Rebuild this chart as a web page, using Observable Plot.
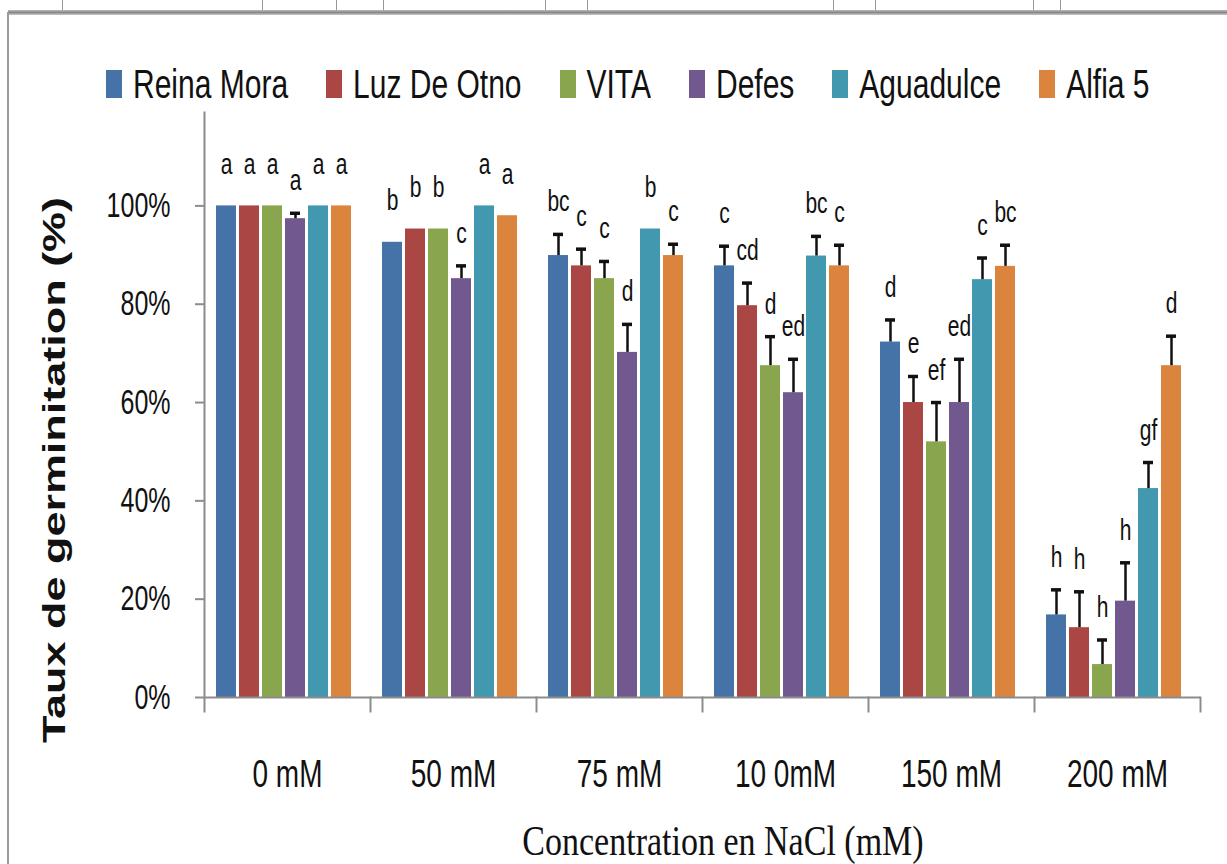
<!DOCTYPE html>
<html>
<head>
<meta charset="utf-8">
<script src="https://cdn.jsdelivr.net/npm/d3@7"></script>
<script src="https://cdn.jsdelivr.net/npm/@observablehq/plot@0.6"></script>
<style>
  body { margin: 0; background: #fff; }
  #wrap { position: relative; width: 1227px; height: 864px; overflow: hidden; font-family: "Liberation Sans", Arial, sans-serif; color: #111; }
  #topline { position: absolute; left: 8px; right: 0; top: 10px; height: 5px; background: linear-gradient(#bbb, #888, #ccc); }
  #leftline { position: absolute; left: 7px; top: 12px; bottom: 0; width: 2px; background: #9a9a9a; }
  .rt { position: absolute; top: 0; width: 1px; height: 10px; background: #999; }
  #legend { position: absolute; left: 106px; top: 70px; display: flex; align-items: center; gap: 38px; }
  .item { display: flex; align-items: center; }
  .sw { width: 16px; height: 28px; margin-right: 11px; }
  .lab { font-size: 30px; line-height: 28px; transform: scaleY(1.35); white-space: nowrap; }
  .anchor { position: absolute; width: 0; height: 0; }
  .anchor span { position: absolute; left: 0; top: 0; white-space: nowrap; }
  #ytitle span { font-weight: bold; font-size: 31px; transform: translate(-50%, -50%) rotate(-90deg) scaleX(1.45); }
  #xtitle span { font-family: "Liberation Serif", "Times New Roman", serif; font-size: 34px; transform: translate(-50%, -50%) scaleY(1.25); }
  #plot { position: absolute; left: 0; top: 0; }
</style>
</head>
<body>
<div id="wrap">
  <div id="topline"></div>
  <div id="leftline"></div>
  <div id="plot"></div>
  <div id="legend"></div>
  <div id="ytitle" class="anchor" style="left:55px; top:470px;"><span>Taux de germinitation (%)</span></div>
  <div id="xtitle" class="anchor" style="left:723px; top:841px;"><span>Concentration en NaCl (mM)</span></div>
</div>
<script>
// ---- data ----
const concentrations = ["0 mM", "50 mM", "75 mM", "10 0mM", "150 mM", "200 mM"];
const varieties = ["Reina Mora", "Luz De Otno", "VITA", "Defes", "Aguadulce", "Alfia 5"];
const colors = ["#4572A7", "#AA4643", "#89A54E", "#71588F", "#4198AF", "#DB843D"];

// germination rate (fraction) per variety, by concentration
const reinaMora  = [1.00, 0.926, 0.899, 0.878, 0.723, 0.168];
const luzDeOtno  = [1.00, 0.953, 0.878, 0.797, 0.600, 0.142];
const vita       = [1.00, 0.953, 0.852, 0.675, 0.520, 0.067];
const defes      = [0.974, 0.852, 0.702, 0.620, 0.600, 0.196];
const aguadulce  = [1.00, 1.00, 0.953, 0.898, 0.850, 0.425];
const alfia5     = [1.00, 0.980, 0.899, 0.878, 0.877, 0.675];

// standard errors (upper bars)
const errReinaMora = [0, 0, 0.043, 0.040, 0.045, 0.051];
const errLuzDeOtno = [0, 0, 0.034, 0.046, 0.053, 0.073];
const errVita      = [0, 0, 0.035, 0.059, 0.080, 0.050];
const errDefes     = [0.011, 0.026, 0.057, 0.068, 0.088, 0.078];
const errAguadulce = [0, 0, 0, 0.040, 0.044, 0.053];
const errAlfia5    = [0, 0, 0.023, 0.042, 0.043, 0.060];

// significance letters
const letReinaMora = ["a", "b", "bc", "c", "d", "h"];
const letLuzDeOtno = ["a", "b", "c", "cd", "e", "h"];
const letVita      = ["a", "b", "c", "d", "ef", "h"];
const letDefes     = ["a", "c", "d", "ed", "ed", "h"];
const letAguadulce = ["a", "a", "b", "bc", "c", "gf"];
const letAlfia5    = ["a", "a", "c", "c", "bc", "d"];

const yTicks = [0, 0.2, 0.4, 0.6, 0.8, 1.0];

// ---- table ----
const valueSets = [reinaMora, luzDeOtno, vita, defes, aguadulce, alfia5];
const errSets = [errReinaMora, errLuzDeOtno, errVita, errDefes, errAguadulce, errAlfia5];
const letterSets = [letReinaMora, letLuzDeOtno, letVita, letDefes, letAguadulce, letAlfia5];
const rows = [];
varieties.forEach((v, i) => concentrations.forEach((c, j) => rows.push({
  variety: v, conc: c, value: valueSets[i][j], err: errSets[i][j], letter: letterSets[i][j]
})));
const withErr = rows.filter(d => d.err > 0);
const noErr = rows.filter(d => d.err === 0);

// ---- page decoration: ruler marks above the frame ----
const wrap = document.getElementById("wrap");
[62, 262, 336, 383, 545, 587, 833, 875, 1033, 1060].forEach(x => {
  const m = document.createElement("div");
  m.className = "rt";
  m.style.left = x + "px";
  wrap.appendChild(m);
});

// ---- legend ----
const legend = document.getElementById("legend");
varieties.forEach((v, i) => {
  const it = document.createElement("div");
  it.className = "item";
  it.innerHTML = `<div class="sw" style="background:${colors[i]}"></div><span class="lab">${v}</span>`;
  legend.appendChild(it);
});

// ---- plot ----
const gray = "#8c8c8c";
const ink = "#111";
const chart = Plot.plot({
  width: 1227,
  height: 864,
  marginLeft: 202,
  marginRight: 26,
  marginTop: 112,
  marginBottom: 167,
  style: { fontFamily: "Liberation Sans, Arial, sans-serif", background: "transparent", color: ink },
  fx: { domain: concentrations, padding: 0, label: null },
  x: { domain: varieties, paddingInner: 0.14, paddingOuter: 0.64, align: 0.4, axis: null },
  y: { domain: [0, 1.19] },
  color: { domain: varieties, range: colors },
  marks: [
    Plot.barY(rows, { fx: "conc", x: "variety", y: "value", fill: "variety" }),
    Plot.ruleX(withErr, { fx: "conc", x: "variety", y1: "value", y2: d => d.value + d.err, stroke: ink, strokeWidth: 2.5 }),
    Plot.tickY(withErr, { fx: "conc", x: "variety", y: d => d.value + d.err, stroke: ink, strokeWidth: 3.5, insetLeft: 5, insetRight: 5 }),
    Plot.text(withErr, { fx: "conc", x: "variety", y: d => d.value + d.err, text: "letter", dy: -23, lineAnchor: "bottom", fontSize: 21, fill: ink }),
    Plot.text(noErr, { fx: "conc", x: "variety", y: "value", text: "letter", dy: -32, lineAnchor: "bottom", fontSize: 21, fill: ink }),
    Plot.ruleY([0], { stroke: gray, strokeWidth: 2 }),
    Plot.frame({ anchor: "right", stroke: gray, strokeWidth: 2, insetTop: 585, insetBottom: -14 }),
    Plot.frame({ anchor: "left", facetAnchor: "left", stroke: gray, strokeWidth: 2, insetBottom: -14 }),
    Plot.axisY({ ticks: yTicks, tickFormat: d3.format(".0%"), tickSize: 9, tickPadding: 25, fontSize: 25, stroke: gray, strokeWidth: 2, color: ink, label: null }),
    Plot.axisFx({ anchor: "bottom", tickSize: 0, tickPadding: 62, fontSize: 28, color: ink, label: null })
  ]
});
document.getElementById("plot").appendChild(chart);

// vertical stretch of text glyphs, as in the reference
chart.querySelectorAll("text").forEach(t => {
  const tr = t.getAttribute("transform");
  if (tr && tr.includes("translate")) t.setAttribute("transform", tr + " scale(1,1.38)");
});
</script>
</body>
</html>
